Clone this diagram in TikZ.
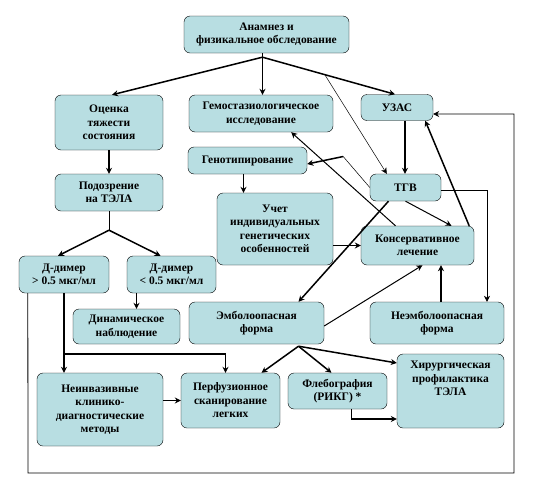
\documentclass[tikz,border=0pt]{standalone}
\usepackage{fontspec}
\setmainfont{Liberation Serif}
\usetikzlibrary{arrows.meta,calc}
\definecolor{boxfill}{RGB}{184,222,226}

\begin{document}
\begin{tikzpicture}[x=1pt,y=-1pt,
every node/.style={draw, align=center, fill=boxfill, rounded corners=6pt, inner sep=1pt, font=\fontsize{11.5}{13.5}\selectfont\bfseries},
thick arrow/.style={line width=1.5pt, -{Stealth[length=6pt,width=6pt]}},
mid arrow/.style={line width=1pt, -{Stealth[length=6pt,width=6pt]}},
thin arrow/.style={line width=0.5pt, -{Stealth[length=6pt,width=6pt]}}]
\useasboundingbox (0,0) rectangle (533,488);
% boxes
\node[minimum width=165, minimum height=37] (anam) at (266.5,34.5) {Анамнез и\\физикальное обследование};
\node[minimum width=108, minimum height=55] (ocen) at (109,122.5) {Оценка\\тяжести\\состояния};
\node[minimum width=144, minimum height=37] (gemo) at (261,113.5) {Гемостазиологическое\\исследование};
\node[minimum width=72, minimum height=26] (uzas) at (397,107.5) {УЗАС};
\node[minimum width=119, minimum height=27] (genot) at (247.5,160.5) {Генотипирование};
\node[minimum width=108, minimum height=37] (podoz) at (109,192.5) {Подозрение\\на ТЭЛА};
\node[minimum width=71, minimum height=27] (tgv) at (405.5,187.5) {ТГВ};
\node[minimum width=116, minimum height=72] (uchet) at (275,229) {Учет\\индивидуальных\\генетических\\особенностей};
\node[minimum width=113, minimum height=39] (kons) at (417.5,245.5) {Консервативное\\лечение};
\node[minimum width=90, minimum height=37] (ddplus) at (64,274.5) {Д-димер\\> 0.5 мкг/мл};
\node[minimum width=89, minimum height=37] (ddminus) at (171.5,274.5) {Д-димер\\< 0.5 мкг/мл};
\node[minimum width=107, minimum height=35] (dinam) at (126.5,326.5) {Динамическое\\наблюдение};
\node[minimum width=135, minimum height=42] (embol) at (256.5,323) {Эмболоопасная\\форма};
\node[minimum width=134, minimum height=42] (neemb) at (437,323) {Неэмболоопасная\\форма};
\node[minimum width=126, minimum height=73] (neinv) at (100,409.5) {Неинвазивные\\клинико-\\диагностические\\методы};
\node[minimum width=99, minimum height=55] (perf) at (230.5,400.5) {Перфузионное\\сканирование\\легких};
\node[minimum width=99, minimum height=36] (fleb) at (337.5,391) {Флебография\\(РИКГ) *};
\node[minimum width=107, minimum height=74] (hirurg) at (450.5,391) {Хирургическая\\профилактика\\ТЭЛА\\[12pt]};
% connectors
\coordinate (top) at ($(anam.south)+(-4,4)$);
\draw[line width=1.5pt] ([xshift=-4]anam.south) -- (top);
\draw[thick arrow] (top) -- ([xshift=3]ocen.north);
\draw[thick arrow] (top) -- (top |- gemo.north);
\draw[thick arrow] (top) -- ([xshift=-2]uzas.north);
\coordinate (tgvbr) at ($(top)!0.47!([xshift=-2]uzas.north)$);
\draw[thin arrow] (tgvbr) -- ([xshift=17]tgv.north west);
\draw[thick arrow] (ocen.south) -- (podoz.north);
\coordinate (ddfork) at ($(podoz.south)+(0,19)$);
\draw[line width=0.8pt] (podoz.south) -- (ddfork);
\draw[thick arrow] (ddfork) -- ([xshift=-6]ddplus.north);
\draw[thick arrow] (ddfork) -- ([xshift=-11]ddminus.north);
\draw[thick arrow] ([xshift=8]uzas.south) -- ([xshift=8]uzas.south |- tgv.north);
\draw[mid arrow] (tgv.south) -- ([xshift=34]kons.north);
\draw[thick arrow] ([xshift=-5]kons.north east) -- ([xshift=-8]uzas.south east);
\draw[mid arrow] ([xshift=-22]kons.north) -- ([xshift=-42]gemo.south east);
\coordinate (genbend) at ($(genot.east)+(36,-4)$);
\draw[thin arrow, -] (tgv.west) -- (genbend);
\draw[thick arrow] (genbend) -- ([yshift=-3.5]genot.east);
\draw[thick arrow] ([xshift=-4]genot.south) -- ([xshift=-4]genot.south |- uchet.north);
\draw[thick arrow] (uchet.east |- kons.west) -- (kons.west);
\draw[thick arrow] ([xshift=-17]tgv.south) -- ([xshift=42]embol.north);
\draw[thin arrow] ([yshift=-3]tgv.east) -| ([xshift=50]neemb.north);
\draw[thick arrow] ([xshift=4]neemb.north) -- ([xshift=4]neemb.north |- kons.south);
\draw[mid arrow] ([yshift=-3]embol.east) -- ([xshift=5]kons.south);
\draw[thick arrow] ([xshift=-35]ddminus.south) -- ([xshift=-35]ddminus.south |- dinam.north);
\draw[thick arrow] (ddplus.south) -- (ddplus.south |- neinv.north);
\coordinate (perfbr) at ($(ddplus.south)+(0,61)$);
\draw[thick arrow] (perfbr) -| ([xshift=-5]perf.north);
\draw[thick arrow] (neinv.east |- perf.west) -- (perf.west);
\coordinate (embfork) at ($(embol.south)+(42,2)$);
\draw[thick arrow] (embfork) -- ([xshift=31]perf.north);
\draw[thick arrow] (embfork) -- ([xshift=-6]fleb.north);
\draw[thick arrow] (embfork) -- ([yshift=28]hirurg.west);
\draw[thick arrow] ([xshift=14]fleb.south) |- ([yshift=-28]hirurg.west);
\coordinate (loopbl) at (28,473);
\coordinate (looptr) at (514,114);
\draw[thin arrow, line width=0.8pt] ([xshift=9]ddplus.south west) -- (loopbl) -| (looptr) -- (uzas.east |- looptr);
\end{tikzpicture}
\end{document}
